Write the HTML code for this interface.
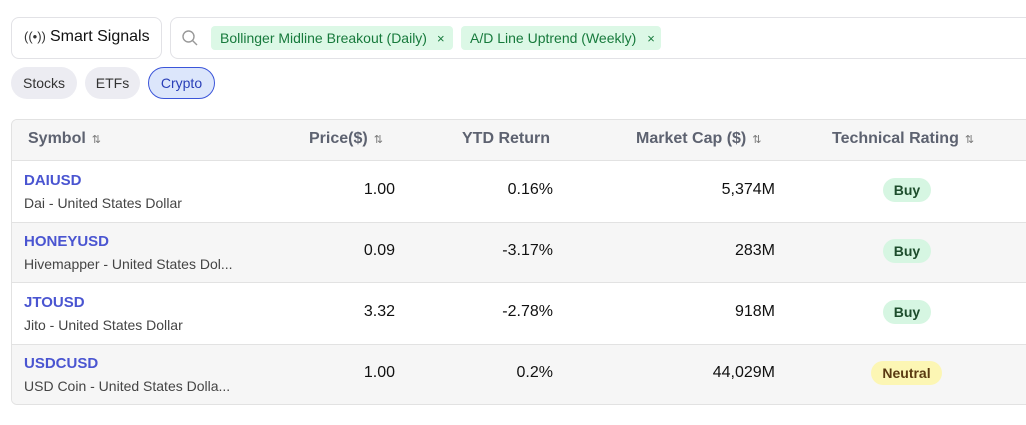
<!DOCTYPE html>
<html><head><style>
*{box-sizing:border-box;margin:0;padding:0}
body{width:1026px;height:425px;overflow:hidden;background:#fff;font-family:"Liberation Sans",Arial,sans-serif;position:relative;color:#111}
.a{position:absolute}
.box{border:1px solid #e2e2e6;border-radius:8px;background:#fff}
.chip{background:#dcf8e6;color:#177a3c;font-size:14px;border-radius:4px;height:24px;line-height:24px;padding-left:9px}
.pill{height:32px;line-height:32px;border-radius:16px;background:#ececf2;color:#333;font-size:14px;text-align:center}
.hd{font-size:16px;font-weight:bold;color:#5d6270;top:130px}
.ar{font-size:11px;color:#777;font-weight:normal;margin-left:6px}
.sym{font-size:15px;font-weight:bold;color:#4a55d1;left:24px}
.sub{font-size:14px;color:#444;left:24px}
.num{font-size:16px;color:#111;text-align:right}
.badge{height:24px;line-height:24px;border-radius:12px;font-size:14px;font-weight:bold;text-align:center}
</style></head><body>
<div class="a box" style="left:11px;top:17px;width:151px;height:42px"></div>
<div class="a" style="left:24px;top:29px;font-size:13px;color:#333">((•))</div>
<div class="a" style="left:50px;top:28px;font-size:16px;color:#111">Smart Signals</div>
<div class="a box" style="left:170px;top:17px;width:870px;height:42px"></div>
<svg class="a" style="left:181px;top:29px" width="18" height="18"><circle cx="7.5" cy="7.5" r="5.5" fill="none" stroke="#999" stroke-width="1.4"/><line x1="11.5" y1="11.5" x2="16" y2="16" stroke="#999" stroke-width="1.4"/></svg>
<div class="a chip" style="left:211px;top:26px;width:242px">Bollinger Midline Breakout (Daily)<span style="margin-left:10px;font-size:13px">×</span></div>
<div class="a chip" style="left:461px;top:26px;width:200px">A/D Line Uptrend (Weekly)<span style="margin-left:11px;font-size:13px">×</span></div>
<div class="a pill" style="left:11px;top:67px;width:66px">Stocks</div>
<div class="a pill" style="left:85px;top:67px;width:55px">ETFs</div>
<div class="a pill" style="left:148px;top:67px;width:67px;background:#dce6fb;border:1px solid #3b55d9;color:#2a3fb8;line-height:30px">Crypto</div>

<div class="a" style="left:11px;top:119px;width:1030px;height:286px;border:1px solid #e2e2e2;border-radius:6px;overflow:hidden">
 <div class="a" style="left:0;top:0;width:100%;height:41px;background:#f6f6f6;border-bottom:1px solid #e2e2e2"></div>
 <div class="a" style="left:0;top:102px;width:100%;height:61px;background:#f6f6f6;border-top:1px solid #e2e2e2;border-bottom:1px solid #e2e2e2"></div>
 <div class="a" style="left:0;top:224px;width:100%;height:62px;background:#f6f6f6;border-top:1px solid #e2e2e2"></div>
</div>
<div class="a hd" style="left:28px">Symbol<span class="ar">⇅</span></div>
<div class="a hd" style="left:309px">Price($)<span class="ar">⇅</span></div>
<div class="a hd" style="left:462px">YTD Return</div>
<div class="a hd" style="left:636px">Market Cap ($)<span class="ar">⇅</span></div>
<div class="a hd" style="left:832px">Technical Rating<span class="ar">⇅</span></div>

<div class="a sym" style="top:172px">DAIUSD</div><div class="a sub" style="top:195px">Dai - United States Dollar</div>
<div class="a num" style="right:631px;top:181px">1.00</div><div class="a num" style="right:473px;top:181px">0.16%</div><div class="a num" style="right:251px;top:181px">5,374M</div>
<div class="a badge" style="left:883px;top:178px;width:48px;background:#d6f6e2;color:#1d4d2c">Buy</div>

<div class="a sym" style="top:233px">HONEYUSD</div><div class="a sub" style="top:256px">Hivemapper - United States Dol...</div>
<div class="a num" style="right:631px;top:242px">0.09</div><div class="a num" style="right:473px;top:242px">-3.17%</div><div class="a num" style="right:251px;top:242px">283M</div>
<div class="a badge" style="left:883px;top:239px;width:48px;background:#d6f6e2;color:#1d4d2c">Buy</div>

<div class="a sym" style="top:294px">JTOUSD</div><div class="a sub" style="top:317px">Jito - United States Dollar</div>
<div class="a num" style="right:631px;top:303px">3.32</div><div class="a num" style="right:473px;top:303px">-2.78%</div><div class="a num" style="right:251px;top:303px">918M</div>
<div class="a badge" style="left:883px;top:300px;width:48px;background:#d6f6e2;color:#1d4d2c">Buy</div>

<div class="a sym" style="top:355px">USDCUSD</div><div class="a sub" style="top:378px">USD Coin - United States Dolla...</div>
<div class="a num" style="right:631px;top:364px">1.00</div><div class="a num" style="right:473px;top:364px">0.2%</div><div class="a num" style="right:251px;top:364px">44,029M</div>
<div class="a badge" style="left:871px;top:361px;width:71px;background:#fcf6b4;color:#5a3a12">Neutral</div>
</body></html>
